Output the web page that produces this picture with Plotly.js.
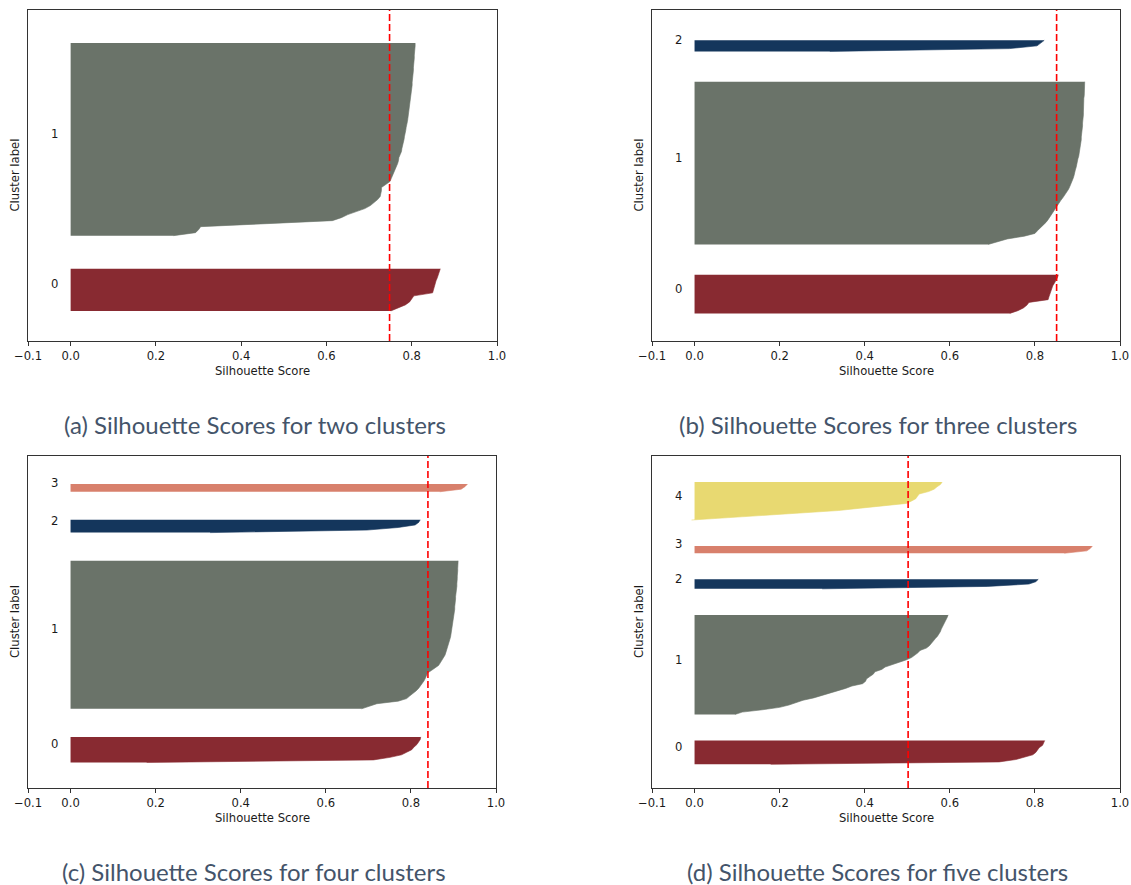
<!DOCTYPE html>
<html>
<head>
<meta charset="utf-8">
<script src="https://cdn.plot.ly/plotly-3.0.1.min.js"></script>
<style>html,body{margin:0;padding:0;background:#fff;}#chart{width:1131px;height:885px;}</style>
</head>
<body>
<div id="chart"></div>
<script>
// ---- data (silhouette values per sample, sorted ascending) ----
const xTickVals = [-0.1, 0.0, 0.2, 0.4, 0.6, 0.8, 1.0];
const xTickText = ['\u22120.1', '0.0', '0.2', '0.4', '0.6', '0.8', '1.0'];
const clusterColors = ['#882A31', '#6A7369', '#14365C', '#D8806C', '#E8D971'];
const captions = ['(a) Silhouette Scores for two clusters', '(b) Silhouette Scores for three clusters',
                  '(c) Silhouette Scores for four clusters', '(d) Silhouette Scores for five clusters'];
const avgScores = [0.748, 0.851, 0.840, 0.502];

// two clusters
const twoC0 = [0.751, 0.770, 0.785, 0.795, 0.800, 0.805, 0.849, 0.851, 0.852, 0.855, 0.857, 0.860, 0.862, 0.865, 0.867];
const twoC1 = [0.241, 0.293, 0.300, 0.305, 0.460, 0.614, 0.635, 0.650, 0.670, 0.690, 0.703, 0.713, 0.720, 0.726, 0.728,
               0.729, 0.729, 0.740, 0.749, 0.752, 0.755, 0.759, 0.762, 0.765, 0.767, 0.769, 0.770, 0.773, 0.776, 0.777,
               0.779, 0.780, 0.782, 0.783, 0.785, 0.786, 0.787, 0.789, 0.790, 0.791, 0.792, 0.793, 0.794, 0.795, 0.796,
               0.797, 0.798, 0.798, 0.799, 0.800, 0.801, 0.801, 0.802, 0.803, 0.803, 0.804, 0.804, 0.805, 0.805, 0.806,
               0.806, 0.807, 0.807, 0.808, 0.808];
// three clusters
const threeC0 = [0.741, 0.760, 0.773, 0.781, 0.786, 0.831, 0.833, 0.835, 0.837, 0.840, 0.842, 0.846, 0.850, 0.853, 0.855];
const threeC1 = [0.690, 0.715, 0.735, 0.775, 0.800, 0.806, 0.813, 0.820, 0.826, 0.831, 0.835, 0.839, 0.843, 0.847, 0.851,
                 0.856, 0.861, 0.866, 0.871, 0.876, 0.879, 0.882, 0.885, 0.888, 0.890, 0.892, 0.893, 0.895, 0.897, 0.898,
                 0.900, 0.901, 0.903, 0.904, 0.906, 0.906, 0.907, 0.908, 0.909, 0.909, 0.910, 0.911, 0.911, 0.912, 0.912,
                 0.913, 0.913, 0.914, 0.914, 0.914, 0.915, 0.915, 0.915, 0.915, 0.916, 0.916, 0.916, 0.916, 0.916, 0.917];
const threeC2 = [0.318, 0.740, 0.805, 0.815, 0.822];
// four clusters
const fourC0 = [0.179, 0.712, 0.751, 0.778, 0.790, 0.802, 0.807, 0.814, 0.818, 0.822, 0.823];
const fourC1 = [0.684, 0.700, 0.720, 0.770, 0.790, 0.797, 0.805, 0.812, 0.818, 0.823, 0.828, 0.831, 0.834, 0.837, 0.839,
                0.848, 0.858, 0.865, 0.869, 0.873, 0.877, 0.880, 0.882, 0.884, 0.886, 0.888, 0.890, 0.891, 0.893, 0.894,
                0.895, 0.896, 0.897, 0.898, 0.899, 0.900, 0.901, 0.901, 0.902, 0.903, 0.903, 0.904, 0.904, 0.905, 0.905,
                0.906, 0.906, 0.907, 0.908, 0.908, 0.909, 0.909, 0.909, 0.910, 0.910, 0.910, 0.910, 0.911, 0.911];
const fourC2 = [0.328, 0.697, 0.770, 0.810, 0.818, 0.822];
const fourC3 = [0.868, 0.918, 0.927, 0.933];
// five clusters
const fiveC0 = [0.179, 0.716, 0.755, 0.776, 0.795, 0.802, 0.806, 0.810, 0.818, 0.821, 0.823];
const fiveC1 = [0.095, 0.112, 0.160, 0.200, 0.222, 0.240, 0.255, 0.280, 0.300, 0.318, 0.334, 0.355, 0.370, 0.395, 0.402,
                0.404, 0.412, 0.420, 0.424, 0.440, 0.448, 0.465, 0.480, 0.497, 0.510, 0.518, 0.525, 0.530, 0.545, 0.552,
                0.556, 0.560, 0.566, 0.571, 0.575, 0.578, 0.580, 0.583, 0.586, 0.588, 0.592, 0.594, 0.596];
const fiveC2 = [0.300, 0.688, 0.786, 0.802, 0.808];
const fiveC3 = [0.869, 0.922, 0.930, 0.935];
const fiveC4 = [-0.007, 0.080, 0.165, 0.250, 0.338, 0.390, 0.445, 0.498, 0.510, 0.520, 0.524, 0.528, 0.550, 0.563, 0.570,
                0.578, 0.582];

// ---- layout geometry (pixels in the 1131x885 page) ----
const W = 1131, H = 885;
const panels = [
  {clusters: [twoC0, twoC1], box: [28, 497, 10, 341]},
  {clusters: [threeC0, threeC1, threeC2], box: [652, 1120, 10, 341]},
  {clusters: [fourC0, fourC1, fourC2, fourC3], box: [28, 496, 456, 788]},
  {clusters: [fiveC0, fiveC1, fiveC2, fiveC3, fiveC4], box: [652, 1120, 456, 788]}
];

const axisFont = {family: 'DejaVu Sans', size: 11.6, color: '#1a1a1a'};
const traces = [];
const layout = {
  width: W, height: H,
  margin: {l: 0, r: 0, t: 0, b: 0},
  paper_bgcolor: '#fff', plot_bgcolor: '#fff',
  showlegend: false,
  font: axisFont,
  annotations: [], shapes: []
};
const px = x => x / W, py = y => 1 - y / H;

panels.forEach((p, pi) => {
  const sfx = pi === 0 ? '' : String(pi + 1);
  const xa = 'x' + sfx, ya = 'y' + sfx;
  const [x0, x1, y0, y1] = p.box;
  let yLower = 10, total = 0;
  p.clusters.forEach((vals, ci) => {
    const ys = vals.map((v, i) => yLower + i);
    traces.push({
      type: 'scatter', mode: 'lines', x: vals, y: ys, xaxis: xa, yaxis: ya,
      fill: 'tozerox', fillcolor: clusterColors[ci],
      line: {color: clusterColors[ci], width: 0.6}, hoverinfo: 'skip'
    });
    layout.annotations.push({
      xref: xa, yref: ya, x: -0.05, y: yLower + 0.5 * vals.length, text: String(ci),
      showarrow: false, xanchor: 'left', yanchor: 'middle', yshift: 4,
      font: axisFont
    });
    yLower += vals.length + 10;
    total += vals.length;
  });
  const ymax = total + (p.clusters.length + 1) * 10;
  layout['xaxis' + sfx] = {
    domain: [px(x0), px(x1)], anchor: ya, range: [-0.1, 1.0],
    tickmode: 'array', tickvals: xTickVals, ticktext: xTickText,
    ticks: 'outside', ticklen: 4, tickwidth: 1, tickcolor: '#333',
    showline: true, mirror: true, linecolor: '#333', linewidth: 1,
    showgrid: false, zeroline: false,
    tickfont: axisFont
  };
  layout['yaxis' + sfx] = {
    domain: [py(y1), py(y0)], anchor: xa, range: [0, ymax],
    showticklabels: false, ticks: '', showline: true, mirror: true,
    linecolor: '#333', linewidth: 1, showgrid: false, zeroline: false
  };
  layout.shapes.push({
    type: 'line', xref: xa, yref: ya + ' domain', x0: avgScores[pi], x1: avgScores[pi], y0: 0, y1: 1,
    line: {color: '#FF0000', width: 1.6, dash: '7px,3px'}, layer: 'above'
  });
  // axis titles
  layout.annotations.push({
    xref: 'paper', yref: 'paper', x: px((x0 + x1) / 2), y: py(y1 + 30), text: 'Silhouette Score',
    showarrow: false, xanchor: 'center', yanchor: 'middle', font: axisFont
  });
  layout.annotations.push({
    xref: 'paper', yref: 'paper', x: px(x0 - 13), y: py((y0 + y1) / 2), text: 'Cluster label',
    showarrow: false, textangle: -90, xanchor: 'center', yanchor: 'middle', font: axisFont
  });
  // caption
  layout.annotations.push({
    xref: 'paper', yref: 'paper', x: px((x0 + x1) / 2 - 8), y: py(y1 + 83), text: captions[pi],
    showarrow: false, xanchor: 'center', yanchor: 'middle',
    font: {family: 'Lato', size: 24, color: '#44546A'}
  });
});

Plotly.newPlot('chart', traces, layout, {displayModeBar: false, staticPlot: true});
</script>
</body>
</html>
